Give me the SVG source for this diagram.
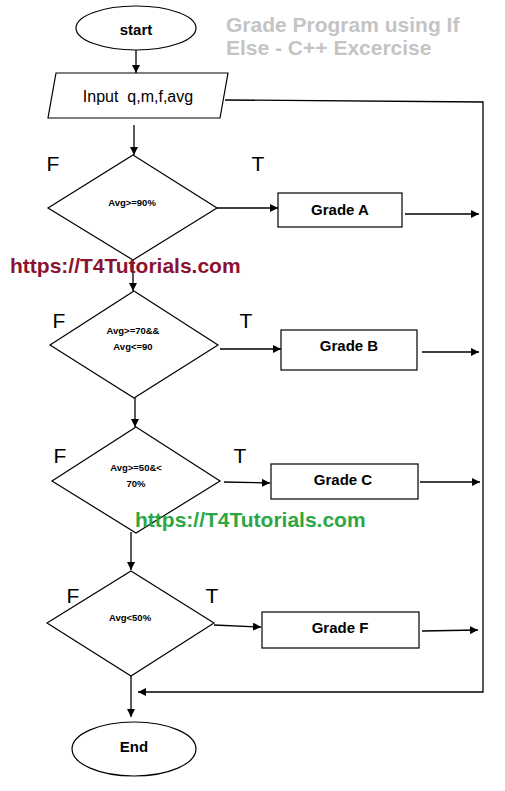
<svg xmlns="http://www.w3.org/2000/svg" width="505" height="791" viewBox="0 0 505 791">
<style>
.shape{fill:#fff;stroke:#000;stroke-width:1.2}
.conn{fill:none;stroke:#000;stroke-width:1.3}
.lbl{font-family:"Liberation Sans",Arial,sans-serif;font-weight:bold;fill:#000;text-anchor:middle}
.cond{font-family:"Liberation Sans",Arial,sans-serif;font-weight:bold;font-size:9.5px;fill:#000;text-anchor:middle}
.tf{font-family:"Liberation Sans",Arial,sans-serif;font-size:21px;fill:#000;text-anchor:middle}
.title{font-family:"Liberation Sans",Arial,sans-serif;font-weight:bold;font-size:21px;fill:#c4c4c4}
.wm{font-family:"Liberation Sans",Arial,sans-serif;font-weight:bold;font-size:21px}
</style>
<defs>
<marker id="ah" viewBox="0 0 10 10" refX="10" refY="5" markerWidth="8" markerHeight="8" markerUnits="userSpaceOnUse" orient="auto">
<path d="M0,0 L10,5 L0,10 z" fill="#000"/>
</marker>
</defs>
<rect width="505" height="791" fill="#fff"/>
<text class="title" x="226" y="32">Grade Program using If</text>
<text class="title" x="226" y="55">Else - C++ Excercise</text>
<g id="connectors">
<line class="conn" x1="136" y1="50" x2="136" y2="73" marker-end="url(#ah)"/>
<polyline class="conn" points="225,100 483,102 483,692 138,692" marker-end="url(#ah)"/>
<line class="conn" x1="134" y1="125" x2="134" y2="155" marker-end="url(#ah)"/>
<line class="conn" x1="217" y1="208" x2="278" y2="208" marker-end="url(#ah)"/>
<line class="conn" x1="405" y1="214" x2="479" y2="214" marker-end="url(#ah)"/>
<line class="conn" x1="133" y1="260" x2="133" y2="291" marker-end="url(#ah)"/>
<line class="conn" x1="220" y1="349" x2="281" y2="349" marker-end="url(#ah)"/>
<line class="conn" x1="422" y1="352" x2="479" y2="352" marker-end="url(#ah)"/>
<line class="conn" x1="135" y1="398" x2="135" y2="427" marker-end="url(#ah)"/>
<line class="conn" x1="224" y1="482" x2="270" y2="483" marker-end="url(#ah)"/>
<line class="conn" x1="420" y1="482" x2="480" y2="482" marker-end="url(#ah)"/>
<line class="conn" x1="131" y1="532" x2="131" y2="570" marker-end="url(#ah)"/>
<line class="conn" x1="214" y1="625" x2="261" y2="627" marker-end="url(#ah)"/>
<line class="conn" x1="422" y1="631" x2="478" y2="630" marker-end="url(#ah)"/>
<line class="conn" x1="131" y1="676" x2="131" y2="717" marker-end="url(#ah)"/>
</g>
<g id="start">
<ellipse class="shape" cx="136" cy="28" rx="60" ry="22"/>
<text class="lbl" x="136" y="35" font-size="15">start</text>
</g>
<g id="input">
<polygon class="shape" points="56,73 228,73 220,118 48,118"/>
<text x="138" y="102" font-family="'Liberation Sans',Arial,sans-serif" font-size="16" text-anchor="middle" xml:space="preserve">Input  q,m,f,avg</text>
</g>
<g id="d1">
<polygon class="shape" points="133,155 217,208 133,260 48,208"/>
<text class="cond" x="132" y="206">Avg&gt;=90%</text>
</g>
<g id="gradeA">
<rect class="shape" x="278" y="193" width="124" height="34"/>
<text class="lbl" x="340" y="215" font-size="15">Grade A</text>
</g>
<g id="d2">
<polygon class="shape" points="134,291 218,345 134,398 50,345"/>
<text class="cond" x="133" y="334">Avg&gt;=70&amp;&amp;</text>
<text class="cond" x="133" y="350">Avg&lt;=90</text>
</g>
<g id="gradeB">
<rect class="shape" x="281" y="330" width="136" height="40"/>
<text class="lbl" x="349" y="351" font-size="15">Grade B</text>
</g>
<g id="d3">
<polygon class="shape" points="136,427 220,481 136,533 52,481"/>
<text class="cond" x="136" y="471">Avg&gt;=50&amp;&lt;</text>
<text class="cond" x="136" y="487">70%</text>
</g>
<g id="gradeC">
<rect class="shape" x="271" y="464" width="147" height="35"/>
<text class="lbl" x="343" y="485" font-size="15">Grade C</text>
</g>
<g id="d4">
<polygon class="shape" points="131,571 214,623 131,676 47,623"/>
<text class="cond" x="130" y="621">Avg&lt;50%</text>
</g>
<g id="gradeF">
<rect class="shape" x="262" y="612" width="157" height="36"/>
<text class="lbl" x="340" y="633" font-size="15">Grade F</text>
</g>
<g id="end">
<ellipse class="shape" cx="134" cy="749" rx="62" ry="27"/>
<text class="lbl" x="134" y="752" font-size="15">End</text>
</g>
<g id="labels">
<text class="tf" x="53" y="171">F</text>
<text class="tf" x="258" y="171">T</text>
<text class="tf" x="59" y="328">F</text>
<text class="tf" x="246" y="328">T</text>
<text class="tf" x="60" y="463">F</text>
<text class="tf" x="240" y="463">T</text>
<text class="tf" x="73" y="603">F</text>
<text class="tf" x="212" y="603">T</text>
</g>
<text class="wm" x="10" y="273" fill="#8b1230">https://T4Tutorials.com</text>
<text class="wm" x="135" y="527" fill="#2ba845">https://T4Tutorials.com</text>
</svg>
